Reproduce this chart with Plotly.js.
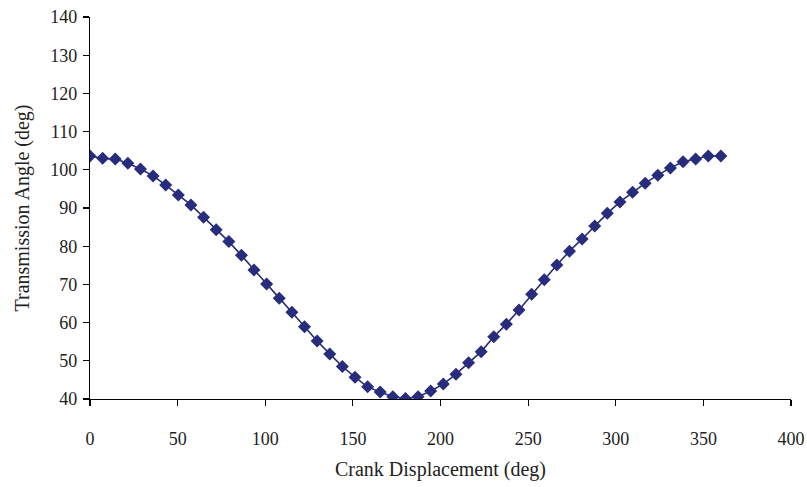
<!DOCTYPE html>
<html>
<head>
<meta charset="utf-8">
<script src="https://cdn.plot.ly/plotly-3.0.1.min.js"></script>
<style>html,body{margin:0;padding:0;background:#fff;}#chart{width:807px;height:487px;}</style>
</head>
<body>
<div id="chart"></div>
<script>
const crankDeg = [0,7.2,14.4,21.6,28.8,36,43.2,50.4,57.6,64.8,72,79.2,86.4,93.6,100.8,108,115.2,122.4,129.6,136.8,144,151.2,158.4,165.6,172.8,180,187.2,194.4,201.6,208.8,216,223.2,230.4,237.6,244.8,252,259.2,266.4,273.6,280.8,288,295.2,302.4,309.6,316.8,324,331.2,338.4,345.6,352.8,360];
const transAngle = [103.6,103.0,102.8,101.7,100.2,98.4,96.0,93.4,90.8,87.6,84.3,81.2,77.6,73.8,70.1,66.4,62.7,58.9,55.2,51.8,48.5,45.7,43.2,41.8,40.6,40.1,40.6,42.1,43.9,46.5,49.5,52.4,56.3,59.6,63.3,67.4,71.2,75.1,78.7,81.9,85.3,88.6,91.6,94.1,96.5,98.6,100.5,102.1,102.8,103.6,103.6];
const xTicks = [0,50,100,150,200,250,300,350,400];
const yTicks = [40,50,60,70,80,90,100,110,120,130,140];

const col = '#282c7c';
const fam = '"Liberation Serif", "Times New Roman", serif';
const tickFnt = {family: fam, size: 18, color: '#222'};
const titleFnt = {family: fam, size: 20, color: '#222'};

Plotly.newPlot('chart', [{
  x: crankDeg, y: transAngle, type: 'scatter', mode: 'lines+markers',
  line: {color: col, width: 1.6},
  marker: {symbol: 'diamond', size: 10, color: col}
}], {
  width: 807, height: 487,
  margin: {l: 90, r: 16, t: 17, b: 88},
  paper_bgcolor: '#fff', plot_bgcolor: '#fff',
  showlegend: false,
  font: tickFnt,
  xaxis: {
    range: [0, 400], tickvals: xTicks, ticktext: xTicks.map(String),
    showgrid: false, zeroline: false, showline: true, linecolor: '#000', linewidth: 1.2,
    ticks: 'outside', ticklen: 6, tickcolor: '#000', tickwidth: 1.2,
    ticklabelstandoff: 17, tickfont: tickFnt,
    title: {text: 'Crank Displacement (deg)', font: titleFnt, standoff: 14}
  },
  yaxis: {
    range: [40, 140], tickvals: yTicks, ticktext: yTicks.map(String),
    showgrid: false, zeroline: false, showline: true, linecolor: '#000', linewidth: 1.2,
    ticks: 'outside', ticklen: 6, tickcolor: '#000', tickwidth: 1.2,
    ticklabelstandoff: 2, tickfont: tickFnt,
    title: {text: 'Transmission Angle (deg)', font: titleFnt, standoff: 15}
  }
}, {displayModeBar: false, staticPlot: true});
</script>
</body>
</html>
